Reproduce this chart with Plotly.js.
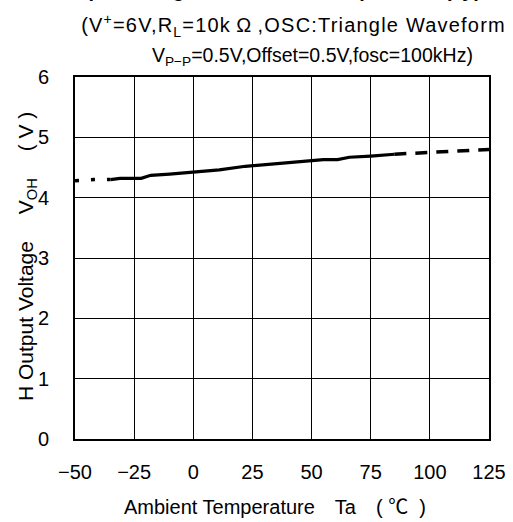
<!DOCTYPE html>
<html><head><meta charset="utf-8">
<script src="https://cdn.plot.ly/plotly-3.0.1.min.js"></script>
<style>html,body{margin:0;padding:0;background:#fff}#c{width:513px;height:522px}</style>
</head><body><div id="c"></div>
<script>
// Data
const tempLeft = [-50, -42, -35];
const vohLeft = [4.28, 4.30, 4.30];
const tempMain = [-35, -31, -22, -18, -10, 1, 11, 22, 32, 41, 50, 55, 61, 66, 75, 85];
const vohMain = [4.30, 4.32, 4.32, 4.37, 4.39, 4.43, 4.46, 4.52, 4.55, 4.58, 4.61, 4.63, 4.63, 4.67, 4.69, 4.72];
const tempRight = [85, 100, 112, 125];
const vohRight = [4.72, 4.75, 4.77, 4.80];
const xTicks = [-50, -25, 0, 25, 50, 75, 100, 125];
const xTickText = ['−50', '−25', '0', '25', '50', '75', '100', '125'];
const yTicks = [0, 1, 2, 3, 4, 5, 6];

const F = 'Liberation Sans, Arial, Noto Sans CJK JP, sans-serif';
const base = {mode: 'lines', hoverinfo: 'skip', showlegend: false};
const traces = [
  Object.assign({x: tempLeft, y: vohLeft, line: {color: '#000', width: 3.5, dash: '4px,12px'}}, base),
  Object.assign({x: tempMain, y: vohMain, line: {color: '#000', width: 3.2}}, base),
  Object.assign({x: tempRight, y: vohRight, line: {color: '#000', width: 3.5, dash: '12px,9px'}}, base)
];
const layout = {
  width: 513, height: 522,
  margin: {l: 75, r: 24, t: 77, b: 83},
  paper_bgcolor: '#fff', plot_bgcolor: '#fff',
  font: {family: F, color: '#000', size: 19},
  xaxis: {
    range: [-50, 125], tickvals: xTicks, ticktext: xTickText,
    showgrid: true, gridcolor: '#000', gridwidth: 1,
    showline: true, linecolor: '#000', linewidth: 2, mirror: true,
    zeroline: false, ticks: '', fixedrange: true,
    tickfont: {family: F, size: 20}, ticklabelstandoff: 14
  },
  yaxis: {
    range: [0, 6], tickvals: yTicks,
    showgrid: true, gridcolor: '#000', gridwidth: 1,
    showline: true, linecolor: '#000', linewidth: 2, mirror: true,
    zeroline: false, ticks: '', fixedrange: true,
    tickfont: {family: F, size: 20}, ticklabelstandoff: 20
  },
  annotations: [
    {xref: 'paper', yref: 'paper', x: 0.52, y: 1, yshift: 87, xanchor: 'center', yanchor: 'middle', showarrow: false,
     text: '<b>Output Voltage vs. Ambient Temperature (Typical)</b>', font: {family: F, size: 20}},
    {xref: 'paper', yref: 'paper', x: 0, y: 1, xshift: 27, yshift: 52, xanchor: 'left', yanchor: 'middle', showarrow: false,
     text: '(V<sup>+</sup>=6V,R<sub>L</sub>=10k\u2009Ω\u2009,OSC:Triangle Waveform', font: {family: F, size: 20}},
    {xref: 'paper', yref: 'paper', x: 0.574, y: 1, yshift: 21, xanchor: 'center', yanchor: 'middle', showarrow: false,
     text: 'V<sub>P−P</sub>=0.5V,Offset=0.5V,fosc=100kHz)', font: {family: F, size: 19.5}},
    {xref: 'paper', yref: 'paper', x: 0.482, y: 0, yshift: -68, xanchor: 'center', yanchor: 'middle', showarrow: false,
     text: 'Ambient Temperature　Ta　(\u00a0℃\u00a0\u00a0)', font: {family: F, size: 20}},
    {xref: 'paper', yref: 'paper', x: 0, y: 0.5, xshift: -48, yshift: 1, xanchor: 'center', yanchor: 'middle', showarrow: false,
     textangle: -90, text: 'H Output Voltage　\u00a0V<sub>OH</sub>　\u00a0(\u00a0V\u00a0)', font: {family: F, size: 21}}
  ]
};
Plotly.newPlot('c', traces, layout, {displayModeBar: false, staticPlot: true}).then(() => {
  const t = document.querySelectorAll('.annotation-text');
  if (t[1]) t[1].style.letterSpacing = '1.2px';
});
</script></body></html>
